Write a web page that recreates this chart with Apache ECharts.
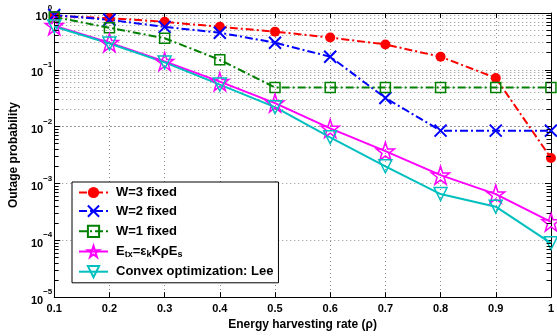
<!DOCTYPE html>
<html>
<head>
<meta charset="utf-8">
<script src="https://cdn.jsdelivr.net/npm/echarts@6/dist/echarts.min.js"></script>
<style>
  html, body { margin: 0; padding: 0; background: #fff; }
  #chart { width: 557px; height: 336px; }
</style>
</head>
<body>
<div id="chart"></div>
<script>
const rho = [0.1, 0.2, 0.3, 0.4, 0.5, 0.6, 0.7, 0.8, 0.9, 1.0];

const w3Fixed = [0.89, 0.81, 0.70, 0.57, 0.47, 0.37, 0.28, 0.17, 0.072, 0.0028];
const w2Fixed = [0.92, 0.76, 0.57, 0.45, 0.30, 0.17, 0.032, 0.0085, 0.0085, 0.0085];
const w1Fixed = [0.85, 0.55, 0.36, 0.15, 0.049, 0.049, 0.049, 0.049, 0.049, 0.049];
const etxScheme = [0.60, 0.30, 0.14, 0.062, 0.026, 0.0093, 0.0037, 0.0014, 0.00065, 0.00021];
const convexLee = [0.58, 0.29, 0.135, 0.055, 0.022, 0.0065, 0.0020, 0.00065, 0.00039, 0.000089];

const seriesNames = ['W=3 fixed', 'W=2 fixed', 'W=1 fixed', 'Etx', 'Convex optimization: Lee'];

const FONT = '"Liberation Sans", Arial, sans-serif';
const GRID_COLOR = '#8c8c8c';

// minor positions (2..9 x 10^k) for the log axis: dotted grid lines + short ticks
const minorLines = [];
const minorTicks = [];
for (let k = -5; k < 0; k++) {
  for (let m = 2; m <= 9; m++) {
    const v = m * Math.pow(10, k);
    minorLines.push({ yAxis: v });
    minorTicks.push([{ coord: [0.1, v] }, { coord: [0.108, v] }]);
    minorTicks.push([{ coord: [1, v] }, { coord: [0.992, v] }]);
  }
}

const pair = (ys) => rho.map((x, i) => [x, ys[i]]);

const STAR = 'path://M50,0L61.2,34.5L97.6,34.5L68.2,55.9L79.4,90.5L50,69.1L20.6,90.5L31.8,55.9L2.4,34.5L38.8,34.5Z';
const CROSS = 'path://M0,0L10,10M0,10L10,0';
const TRI_DOWN = 'path://M0,0L20,0L10,17Z';

const chart = echarts.init(document.getElementById('chart'), null, { renderer: 'canvas' });

function expLabel(v) {
  const e = Math.round(Math.log10(v));
  return '{b|10}{s|' + (e === 0 ? '0' : '\u2212' + Math.abs(e)) + '}';
}

const dashDot = [8, 3, 2, 3];

chart.setOption({
  animation: false,
  backgroundColor: '#fff',
  textStyle: { fontFamily: FONT },
  grid: { left: 49, right: 1, top: 13, bottom: 32 },
  xAxis: [
    {
      type: 'value',
      min: 0.1,
      max: 1,
      interval: 0.1,
      name: 'Energy harvesting rate (\u03c1)',
      nameLocation: 'middle',
      nameGap: 19,
      nameTextStyle: { fontFamily: FONT, fontWeight: 'bold', fontSize: 12, color: '#000' },
      axisLine: { lineStyle: { color: '#000', width: 1 } },
      axisTick: { inside: true, length: 5, lineStyle: { color: '#000' } },
      axisLabel: { fontFamily: FONT, fontWeight: 'bold', fontSize: 11, color: '#000', margin: 6 },
      splitLine: { show: true, lineStyle: { type: [1, 3], color: GRID_COLOR, width: 1 } },
    },
    {
      type: 'value',
      position: 'top',
      min: 0.1,
      max: 1,
      interval: 0.1,
      axisLine: { show: true, lineStyle: { color: '#000', width: 1 } },
      axisTick: { inside: true, length: 5, lineStyle: { color: '#000' } },
      axisLabel: { show: false },
      splitLine: { show: false },
    },
  ],
  yAxis: [
    {
      type: 'log',
      logBase: 10,
      min: 1e-5,
      max: 1,
      name: 'Outage probability',
      nameLocation: 'middle',
      nameGap: 31,
      nameTextStyle: { fontFamily: FONT, fontWeight: 'bold', fontSize: 12, color: '#000' },
      axisLine: { show: true, lineStyle: { color: '#000', width: 1 } },
      axisTick: { inside: true, length: 6, lineStyle: { color: '#000' } },
      axisLabel: {
        formatter: expLabel,
        margin: 2,
        rich: {
          b: { fontFamily: FONT, fontWeight: 'bold', fontSize: 11, color: '#000', lineHeight: 18, verticalAlign: 'bottom' },
          s: { fontFamily: FONT, fontWeight: 'bold', fontSize: 8, color: '#000', lineHeight: 18, verticalAlign: 'top' },
        },
      },
      splitLine: { show: true, lineStyle: { type: [1, 3], color: GRID_COLOR, width: 1 } },
    },
    {
      type: 'log',
      logBase: 10,
      min: 1e-5,
      max: 1,
      position: 'right',
      axisLine: { show: true, lineStyle: { color: '#000', width: 1 } },
      axisTick: { inside: true, length: 6, lineStyle: { color: '#000' } },
      axisLabel: { show: false },
      splitLine: { show: false },
    },
  ],
  legend: {
    orient: 'vertical',
    left: 72,
    top: 182,
    backgroundColor: '#fff',
    borderColor: '#000',
    borderWidth: 1,
    borderRadius: 0,
    padding: [4, 5, 3, 6],
    itemGap: 4,
    itemWidth: 29,
    itemHeight: 14,
    data: seriesNames,
    formatter: (name) => name === 'Etx' ? 'E{sub|tx}=\u03b5{sub|k}K\u03c1E{sub|s}' : name,
    textStyle: {
      fontFamily: FONT,
      fontWeight: 'bold',
      fontSize: 13,
      color: '#000',
      padding: [0, 0, 0, 3],
      rich: {
        sub: { fontFamily: FONT, fontWeight: 'bold', fontSize: 9, color: '#000', verticalAlign: 'bottom', padding: [7, 0, 0, 0] },
      },
    },
  },
  series: [
    {
      name: 'W=3 fixed',
      type: 'line',
      data: pair(w3Fixed),
      symbol: 'circle',
      symbolSize: 10,
      itemStyle: { color: '#ff0000' },
      lineStyle: { color: '#ff0000', width: 2, type: dashDot },
      markLine: {
        silent: true,
        symbol: ['none', 'none'],
        label: { show: false },
        lineStyle: { type: [1, 3], color: GRID_COLOR, width: 1 },
        data: minorLines,
        z: 0,
      },
    },
    {
      name: 'W=2 fixed',
      type: 'line',
      data: pair(w2Fixed),
      symbol: CROSS,
      symbolSize: 12,
      itemStyle: { color: 'none', borderColor: '#0000ff', borderWidth: 2 },
      lineStyle: { color: '#0000ff', width: 2, type: dashDot },
      markLine: {
        silent: true,
        symbol: ['none', 'none'],
        label: { show: false },
        lineStyle: { type: 'solid', color: '#000', width: 1 },
        data: minorTicks,
      },
    },
    {
      name: 'W=1 fixed',
      type: 'line',
      data: pair(w1Fixed),
      symbol: 'rect',
      symbolSize: 10,
      itemStyle: { color: 'none', borderColor: '#008000', borderWidth: 1.5 },
      lineStyle: { color: '#008000', width: 2, type: dashDot },
    },
    {
      name: 'Etx',
      type: 'line',
      data: pair(etxScheme),
      symbol: STAR,
      symbolSize: 18,
      itemStyle: { color: 'none', borderColor: '#ff00ff', borderWidth: 1.5 },
      lineStyle: { color: '#ff00ff', width: 2 },
    },
    {
      name: 'Convex optimization: Lee',
      type: 'line',
      data: pair(convexLee),
      symbol: TRI_DOWN,
      symbolSize: 13,
      itemStyle: { color: 'none', borderColor: '#00bfbf', borderWidth: 1.5 },
      lineStyle: { color: '#00bfbf', width: 2 },
    },
  ],
});
</script>
</body>
</html>
